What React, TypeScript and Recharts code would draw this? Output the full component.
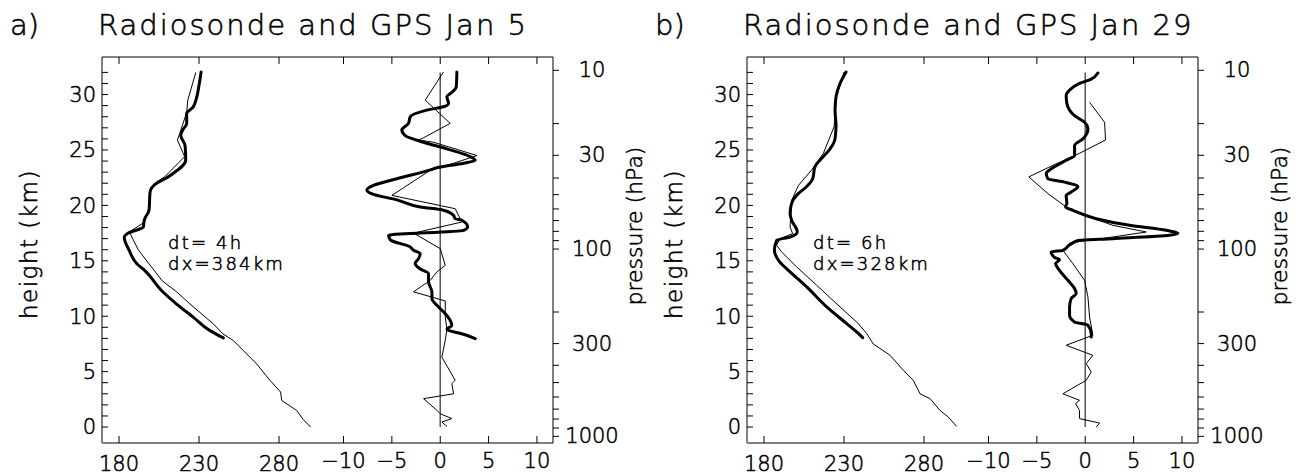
import React from 'react';
import { ScatterChart, Scatter, XAxis, YAxis } from 'recharts';

const FONT = "'DejaVu Sans', sans-serif";

// ---- axis ticks / labels ----
const tempTicks = [180, 230, 280];
const diffTicks = [-10, -5, 0, 5, 10];
const heightTicks = [0, 1, 2, 3, 4, 5, 6, 7, 8, 9, 10, 11, 12, 13, 14, 15, 16, 17, 18, 19, 20, 21, 22, 23, 24, 25, 26, 27, 28, 29, 30, 31, 32];
const heightLabels = [0, 5, 10, 15, 20, 25, 30];
const pressureLevels = [10, 20, 30, 40, 50, 60, 70, 80, 90, 100, 200, 300, 400, 500, 600, 700, 800, 900, 1000];
const pressureHeights = [32.19, 27.38, 24.52, 22.47, 20.97, 19.68, 18.63, 17.66, 16.82, 16.06, 10.38, 7.53, 5.57, 4.01, 2.71, 1.62, 0.72, -0.09, -0.84];
const pressureLabels = [10, 30, 100, 300, 1000];

const tempDomain = [169.375, 451.25];
const diffDomain = [-34.97, 11.66];
const heightDomain = [-1.44, 33.39];
const xTickLen = 0.63; // km (length of x-axis tick marks in height units)

// ---- panel a (Jan 5) : [value, height km] ----
const gpsTempA = [
  [231.3, 32.04], [230.2, 31.0], [226.5, 28.9], [222.3, 28.3], [222.3, 27.4], [219.8, 26.8], [218.6, 26.3],
  [221.3, 25.4], [221.7, 24.1], [214.0, 22.9], [208.8, 22.4], [203.5, 22.0], [199.4, 21.2], [198.8, 19.6],
  [195.8, 18.7], [195.2, 18.05], [185.8, 17.5], [183.3, 17.1], [186.5, 15.9], [191.0, 14.75], [196.3, 14.1],
  [206.7, 12.3], [216.0, 11.1], [226.5, 9.9], [236.9, 8.7], [245.2, 8.05],
];
const sondeTempA = [
  [228.0, 32.0], [223.0, 29.5], [222.3, 28.4], [218.0, 26.5], [216.5, 25.9], [221.0, 24.4], [208.7, 22.6],
  [203.5, 22.1], [199.5, 21.4], [199.0, 19.9], [196.0, 18.5], [186.5, 17.6], [192.0, 16.0], [200.0, 14.5],
  [207.0, 13.2], [216.0, 12.2], [224.4, 11.1], [239.0, 9.3], [245.0, 8.4], [251.5, 7.8], [257.7, 6.9],
  [266.0, 5.7], [274.4, 4.2], [281.0, 3.16], [281.7, 2.4], [291.0, 1.5], [295.2, 0.67], [299.8, 0.0],
];
const gpsDiffA = [
  [1.72, 32.04], [1.66, 30.7], [1.2, 30.2], [0.69, 29.8], [0.86, 29.2], [0.34, 28.9], [-1.38, 28.6],
  [-3.1, 28.0], [-3.28, 27.4], [-3.97, 26.8], [-3.62, 26.3], [-1.72, 25.7], [0.69, 25.1], [3.1, 24.4],
  [3.62, 24.07], [2.41, 23.8], [-0.34, 23.4], [-1.03, 23.2], [-4.48, 22.4], [-6.9, 21.8], [-7.59, 21.4],
  [-6.9, 21.0], [-4.48, 20.5], [-2.07, 19.86], [0.34, 19.56], [1.38, 19.1], [1.55, 18.8], [2.24, 18.66],
  [2.83, 18.06], [2.41, 17.75], [-5.34, 17.3], [-5.17, 16.9], [-3.1, 16.25], [-2.76, 15.95], [-2.07, 15.65],
  [-2.24, 15.2], [-2.59, 14.75], [-2.14, 14.3], [-1.21, 13.84], [-1.21, 13.1], [-0.86, 12.2], [-0.86, 11.6],
  [-0.17, 10.84], [0.52, 10.23], [1.2, 9.18], [0.69, 8.8], [2.41, 8.37], [3.62, 7.98],
];
const sondeDiffA = [
  [0.34, 32.04], [-1.55, 29.5], [1.03, 27.4], [-1.72, 26.1], [-2.24, 25.9], [-0.69, 25.7], [3.79, 24.5],
  [0.69, 23.6], [-1.03, 23.17], [-5.0, 20.9], [1.55, 19.7], [2.24, 18.5], [-2.76, 17.5], [0.0, 16.1],
  [0.52, 14.6], [-0.34, 14.0], [-1.03, 13.24], [-2.76, 12.2], [0.52, 11.38], [0.52, 9.93], [0.69, 8.8],
  [0.52, 7.83], [0.17, 6.3], [1.55, 4.22], [1.2, 3.92], [1.38, 3.0], [-1.72, 2.56], [-0.34, 1.5],
  [0.0, 1.2], [1.2, 0.76], [0.17, 0.45], [0.69, 0.06],
];

// ---- panel b (Jan 29) ----
const gpsTempB = [
  [231.3, 32.04], [227.5, 31.0], [225.0, 29.8], [224.4, 28.6], [225.0, 27.2], [224.4, 26.0], [221.3, 25.1],
  [217.1, 24.4], [211.9, 23.5], [210.4, 22.4], [206.7, 21.7], [201.4, 21.06], [197.3, 20.2], [196.3, 19.26],
  [197.3, 18.65], [200.8, 17.6], [196.3, 17.15], [187.9, 16.85], [186.5, 15.95], [189.0, 15.05], [196.3, 14.0],
  [206.7, 12.64], [219.2, 10.84], [231.7, 9.33], [237.9, 8.58], [241.7, 8.07],
];
const sondeTempB = [
  [230.0, 32.04], [225.4, 29.8], [223.8, 27.1], [217.1, 24.7], [209.8, 23.2], [201.5, 21.8], [197.3, 20.46],
  [196.3, 18.05], [197.9, 17.45], [190.0, 17.0], [187.9, 16.4], [191.0, 15.8], [200.4, 14.45], [212.9, 12.8],
  [227.5, 10.84], [239.0, 9.33], [244.2, 8.43], [248.3, 7.5], [258.8, 6.47], [267.1, 5.12], [273.3, 4.22],
  [277.5, 3.0], [283.8, 2.56], [290.0, 1.5], [295.2, 0.9], [300.4, 0.06],
];
const gpsDiffB = [
  [1.31, 31.95], [0.62, 31.4], [-0.59, 31.0], [-1.62, 30.4], [-1.97, 29.9], [-1.9, 29.2], [-1.1, 28.1],
  [-0.07, 27.5], [0.28, 26.9], [-0.24, 26.0], [-1.1, 25.4], [-1.1, 24.5], [-1.97, 24.07], [-3.52, 23.3],
  [-4.03, 22.9], [-3.86, 22.4], [-2.14, 22.1], [-0.76, 21.7], [-1.45, 21.2], [-1.97, 20.9], [-1.9, 20.2],
  [-2.03, 19.86], [-1.28, 19.56], [1.14, 18.8], [4.59, 18.2], [8.38, 17.75], [9.59, 17.5], [8.72, 17.3],
  [2.86, 17.0], [-0.59, 16.85], [-1.45, 16.55], [-2.31, 15.95], [-3.52, 15.8], [-3.17, 15.3], [-2.66, 15.1],
  [-3.07, 14.75], [-2.66, 14.14], [-1.79, 13.24], [-1.1, 12.5], [-0.93, 12.04], [-1.45, 11.6], [-1.62, 10.84],
  [-1.62, 10.08], [-1.1, 9.48], [0.28, 9.18], [0.62, 8.43], [0.62, 8.13],
];
const sondeDiffB = [
  [0.45, 29.3], [2.0, 27.5], [2.1, 25.9], [-0.59, 24.7], [-3.69, 23.47], [-5.83, 22.57], [-3.86, 21.06],
  [-1.97, 19.86], [-0.59, 19.26], [2.86, 18.2], [6.31, 17.6], [2.86, 17.15], [-0.93, 16.7], [-2.31, 15.95],
  [-1.28, 14.75], [-0.07, 13.24], [0.28, 11.74], [0.45, 9.93], [0.79, 8.28], [-1.97, 7.38], [0.79, 6.47],
  [0.1, 5.72], [0.62, 4.97], [0.1, 4.22], [-2.31, 3.0], [-0.59, 2.41], [-1.0, 2.11], [-0.59, 1.5],
  [-0.59, 0.76], [1.48, 0.36], [1.14, 0.0],
];

const zeroLine = [[0, 0], [0, 32]];

const toPts = (arr: number[][]) => arr.map(([x, y]) => ({ x, y }));
const Nothing = () => <g />;
const fmtSigned = (v: number) => (v < 0 ? '\u2212' + String(-v) : String(v));

const TXT = { fontFamily: FONT, fill: '#000', fontWeight: 200, stroke: '#000', strokeWidth: 0.55 } as const;

// right-hand pressure axis: one point per pressure level on the right frame edge
const pressurePts = pressureLevels.map((p, i) => ({ x: diffDomain[1], y: pressureHeights[i], p }));

const PressureMark = (props: any) => {
  const { cx, cy } = props;
  const p = props.payload?.p ?? props.p;
  if (cx == null || cy == null) return <g />;
  return (
    <g>
      <line x1={cx} y1={cy} x2={cx + 6} y2={cy} stroke="#000" strokeWidth={1} />
      {pressureLabels.includes(p) ? (
        <text x={cx + 39} y={cy} textAnchor="middle" dominantBaseline="central" fontSize={21} {...TXT}>
          {p}
        </text>
      ) : null}
    </g>
  );
};

type PanelProps = {
  left: number;
  gpsTemp: number[][];
  sondeTemp: number[][];
  gpsDiff: number[][];
  sondeDiff: number[][];
};

// x-axis tick marks (top and bottom of the frame) drawn as short series through the axis scales
function tickMarks(axisId: string, values: number[]) {
  const [h0, h1] = heightDomain;
  const out: any[] = [];
  values.forEach((v) => {
    out.push(
      <Scatter key={`${axisId}-b-${v}`} xAxisId={axisId} yAxisId="h" data={toPts([[v, h0], [v, h0 + xTickLen]])}
        fill="#000" line={{ stroke: '#000', strokeWidth: 1 }} lineType="joint" shape={Nothing} isAnimationActive={false} />
    );
    out.push(
      <Scatter key={`${axisId}-t-${v}`} xAxisId={axisId} yAxisId="h" data={toPts([[v, h1], [v, h1 - xTickLen]])}
        fill="#000" line={{ stroke: '#000', strokeWidth: 1 }} lineType="joint" shape={Nothing} isAnimationActive={false} />
    );
  });
  return out;
}

function Panel({ left, gpsTemp, sondeTemp, gpsDiff, sondeDiff }: PanelProps) {
  const tickStyle = { fontSize: 21, ...TXT };
  const [t0, t1] = tempDomain;
  const [h0, h1] = heightDomain;
  const dR = diffDomain[1];
  return (
    <div style={{ position: 'absolute', left, top: 0 }}>
      <ScatterChart width={652} height={476} margin={{ top: 57, right: 99, bottom: 31, left: 0 }}>
        <XAxis xAxisId="t" orientation="bottom" type="number" dataKey="x" domain={tempDomain} ticks={tempTicks}
          height={1} tickSize={-7} tickMargin={19} interval={0} tick={tickStyle}
          axisLine={false} tickLine={false} />
        <XAxis xAxisId="d" orientation="bottom" type="number" dataKey="x" domain={diffDomain} ticks={diffTicks}
          height={1} tickSize={-8} tickMargin={18} interval={0} tick={tickStyle}
          tickFormatter={fmtSigned} axisLine={false} tickLine={false} />
        <YAxis yAxisId="h" orientation="left" type="number" dataKey="y" domain={heightDomain} ticks={heightTicks}
          width={102} tickSize={-6} tickMargin={12} interval={0} tick={tickStyle}
          tickFormatter={(v: number) => (heightLabels.includes(v) ? String(v) : '')}
          axisLine={{ stroke: '#000', strokeWidth: 1 }} tickLine={{ stroke: '#000' }} />
        <Scatter xAxisId="t" yAxisId="h" data={toPts([[t0, h1], [t1, h1]])} fill="#000"
          line={{ stroke: '#000', strokeWidth: 1 }} lineType="joint" shape={Nothing} isAnimationActive={false} />
        <Scatter xAxisId="t" yAxisId="h" data={toPts([[t0, h0], [t1, h0]])} fill="#808080"
          line={{ stroke: '#808080', strokeWidth: 2 }} lineType="joint" shape={Nothing} isAnimationActive={false} />
        <Scatter xAxisId="d" yAxisId="h" data={toPts([[dR, h0], [dR, h1]])} fill="#000"
          line={{ stroke: '#000', strokeWidth: 1 }} lineType="joint" shape={Nothing} isAnimationActive={false} />
        <Scatter xAxisId="d" yAxisId="h" data={pressurePts} fill="#000" shape={PressureMark} isAnimationActive={false} />
        {tickMarks('t', tempTicks)}
        {tickMarks('d', diffTicks)}
        <Scatter xAxisId="d" yAxisId="h" data={toPts(zeroLine)} fill="#555" line={{ stroke: '#555', strokeWidth: 1.5 }}
          lineType="joint" shape={Nothing} isAnimationActive={false} />
        <Scatter xAxisId="t" yAxisId="h" data={toPts(sondeTemp)} fill="#000" line={{ stroke: '#000', strokeWidth: 1 }}
          lineType="joint" shape={Nothing} isAnimationActive={false} />
        <Scatter xAxisId="t" yAxisId="h" data={toPts(gpsTemp)} fill="#000"
          line={{ stroke: '#000', strokeWidth: 3, strokeLinejoin: 'round', strokeLinecap: 'round' }}
          lineType="joint" lineJointType="monotoneY" shape={Nothing} isAnimationActive={false} />
        <Scatter xAxisId="d" yAxisId="h" data={toPts(sondeDiff)} fill="#000" line={{ stroke: '#000', strokeWidth: 1 }}
          lineType="joint" shape={Nothing} isAnimationActive={false} />
        <Scatter xAxisId="d" yAxisId="h" data={toPts(gpsDiff)} fill="#000"
          line={{ stroke: '#000', strokeWidth: 3, strokeLinejoin: 'round', strokeLinecap: 'round' }}
          lineType="joint" lineJointType="monotoneY" shape={Nothing} isAnimationActive={false} />
      </ScatterChart>
    </div>
  );
}

export default function App() {
  return (
    <div style={{ position: 'absolute', left: 0, top: 0, width: 1304, height: 476, background: '#fff', overflow: 'hidden' }}>
      <Panel left={0} gpsTemp={gpsTempA} sondeTemp={sondeTempA} gpsDiff={gpsDiffA} sondeDiff={sondeDiffA} />
      <Panel left={645} gpsTemp={gpsTempB} sondeTemp={sondeTempB} gpsDiff={gpsDiffB} sondeDiff={sondeDiffB} />
      <svg width={1304} height={476} style={{ position: 'absolute', left: 0, top: 0, pointerEvents: 'none' }}>
        <text x={10} y={35} fontSize={29} {...TXT}>a)</text>
        <text x={98} y={35} fontSize={29} letterSpacing={2} {...TXT}>Radiosonde and GPS Jan 5</text>
        <text x={655} y={35} fontSize={29} {...TXT}>b)</text>
        <text x={743} y={35} fontSize={29} letterSpacing={2} {...TXT}>Radiosonde and GPS Jan 29</text>

        <text transform="translate(36.5,244) rotate(-90)" textAnchor="middle" fontSize={23} letterSpacing={1.5} {...TXT}>height (km)</text>
        <text transform="translate(681.5,244) rotate(-90)" textAnchor="middle" fontSize={23} letterSpacing={1.5} {...TXT}>height (km)</text>
        <text transform="translate(641.7,226) rotate(-90)" textAnchor="middle" fontSize={22} {...TXT}>pressure (hPa)</text>
        <text transform="translate(1286.7,226) rotate(-90)" textAnchor="middle" fontSize={22} {...TXT}>pressure (hPa)</text>

        <text x={168} y={249} fontSize={18} letterSpacing={2.2} style={{ whiteSpace: 'pre' }} {...TXT}>dt= 4h</text>
        <text x={168} y={270} fontSize={18} letterSpacing={2.2} {...TXT}>dx=384km</text>
        <text x={813} y={249} fontSize={18} letterSpacing={2.2} style={{ whiteSpace: 'pre' }} {...TXT}>dt= 6h</text>
        <text x={813} y={270} fontSize={18} letterSpacing={2.2} {...TXT}>dx=328km</text>
      </svg>
    </div>
  );
}
